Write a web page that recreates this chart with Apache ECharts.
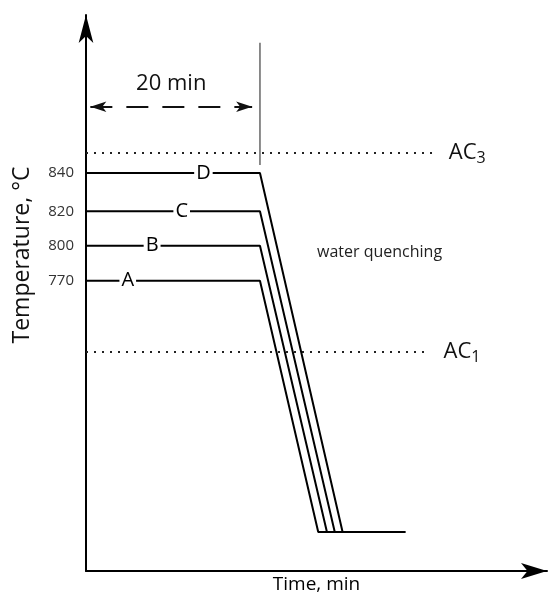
<!DOCTYPE html>
<html>
<head>
<meta charset="utf-8">
<script src="https://cdn.jsdelivr.net/npm/echarts@6/dist/echarts.min.js"></script>
<style>
  html, body { margin: 0; padding: 0; background: #fff; }
  #chart { width: 548px; height: 595px; }
</style>
</head>
<body>
<div id="chart"></div>
<script>
// ---- data (schematic heat-treatment diagram) ----
const steels = ['A', 'B', 'C', 'D'];
const tempLabels = ['770', '800', '820', '840'];
// schematic heights (arbitrary units, 0 = time axis) of the holding temperatures
const levelY = [52.2, 58.5, 64.7, 71.6];
const holdTime = 20;                        // min
const holdEnd = [20, 20, 20, 20];           // min
const quenchEnd = [26.7, 27.7, 28.6, 29.5]; // min, where each quench reaches the bottom
const quenchLevel = 7.0;                    // schematic height after quenching
const quenchTail = 36.7;                    // min
const letterTime = [4.8, 7.6, 11.0, 13.5];  // where the letters A-D sit on the plateaus
const acNames = ['3', '1'];                 // AC3, AC1
const acLevel = [75.2, 39.4];
const acEnd = [40.1, 39.5];
const dimArrow = [0.5, 19.1];               // 20 min dimension arrow span
const dimLevel = 83.5;
const markerSpan = [73.0, 95.0];            // vertical marker at end of holding

const FONT = '"Open Sans", "Noto Sans", sans-serif';
const chart = echarts.init(document.getElementById('chart'), null, { renderer: 'canvas' });

const series = [];
steels.forEach((s, i) => {
  series.push({
    type: 'line',
    name: s,
    symbol: 'circle',
    symbolSize: 0,
    showSymbol: true,
    showAllSymbol: true,
    lineStyle: { color: '#000', width: 2 },
    itemStyle: { color: '#000' },
    z: 3,
    data: [
      [0, levelY[i]],
      {
        value: [letterTime[i], levelY[i]],
        label: {
          show: true, position: 'inside', formatter: s,
          fontFamily: FONT, fontSize: 20, color: '#000',
          backgroundColor: '#fff', padding: [0, 2, 0, 2]
        }
      },
      [holdEnd[i], levelY[i]],
      [quenchEnd[i], quenchLevel],
      [quenchTail, quenchLevel]
    ]
  });
});

acNames.forEach((n, i) => {
  series.push({
    type: 'line',
    name: 'AC' + n,
    symbol: 'none',
    lineStyle: { color: '#222', width: 2, type: [2, 6] },
    z: 2,
    data: [[0, acLevel[i]], [acEnd[i], acLevel[i]]],
    endLabel: {
      show: true,
      distance: 14,
      formatter: '{a|AC}{s|' + n + '}',
      rich: {
        a: { fontFamily: FONT, fontSize: 22, color: '#111', lineHeight: 28 },
        s: { fontFamily: FONT, fontSize: 16, color: '#111', lineHeight: 28, padding: [12, 0, 0, 0] }
      }
    }
  });
});

// vertical marker at end of holding + 20 min dimension arrow
series.push({
  type: 'line',
  name: 'marker',
  symbol: 'none',
  lineStyle: { color: '#666', width: 1.5 },
  data: [[holdTime, markerSpan[0]], [holdTime, markerSpan[1]]],
  markLine: {
    silent: true,
    symbol: ['arrow', 'arrow'],
    symbolSize: [8, 16],
    lineStyle: { color: '#111', width: 2, type: [22, 14] },
    label: {
      show: true, position: 'insideMiddleTop', distance: 12,
      formatter: holdTime + ' min', fontFamily: FONT, fontSize: 22, color: '#111'
    },
    data: [[{ coord: [dimArrow[0], dimLevel] }, { coord: [dimArrow[1], dimLevel] }]]
  }
});

chart.setOption({
  animation: false,
  backgroundColor: '#fff',
  grid: { left: 86, right: 1, top: 15, bottom: 24, containLabel: false, outerBoundsMode: 'none' },
  xAxis: {
    type: 'value', min: 0, max: 53,
    axisLine: { show: true, lineStyle: { color: '#000', width: 2 }, symbol: ['none', 'arrow'], symbolSize: [12, 26] },
    axisTick: { show: false }, axisLabel: { show: false }, splitLine: { show: false },
    name: 'Time, min', nameLocation: 'middle', nameGap: 4,
    nameTextStyle: { fontFamily: FONT, fontSize: 19, color: '#000', verticalAlign: 'top' }
  },
  yAxis: {
    type: 'value', min: 0, max: 100,
    axisLine: { show: true, lineStyle: { color: '#000', width: 2 }, symbol: ['none', 'arrow'], symbolSize: [11, 28] },
    axisTick: { show: false },
    splitLine: { show: false },
    axisLabel: {
      customValues: levelY,
      formatter: v => tempLabels[levelY.indexOf(v)] || '',
      fontFamily: FONT, fontSize: 15, color: '#333', margin: 12
    },
    name: 'Temperature, \u00B0C', nameLocation: 'middle', nameGap: 52,
    nameTextStyle: { fontFamily: FONT, fontSize: 23, color: '#111', padding: [0, 0, 0, 76] }
  },
  graphic: [{
    type: 'text', left: 317, top: 244,
    style: { text: 'water quenching', fontFamily: FONT, fontSize: 16, fill: '#222' }
  }],
  series: series
});
</script>
</body>
</html>
